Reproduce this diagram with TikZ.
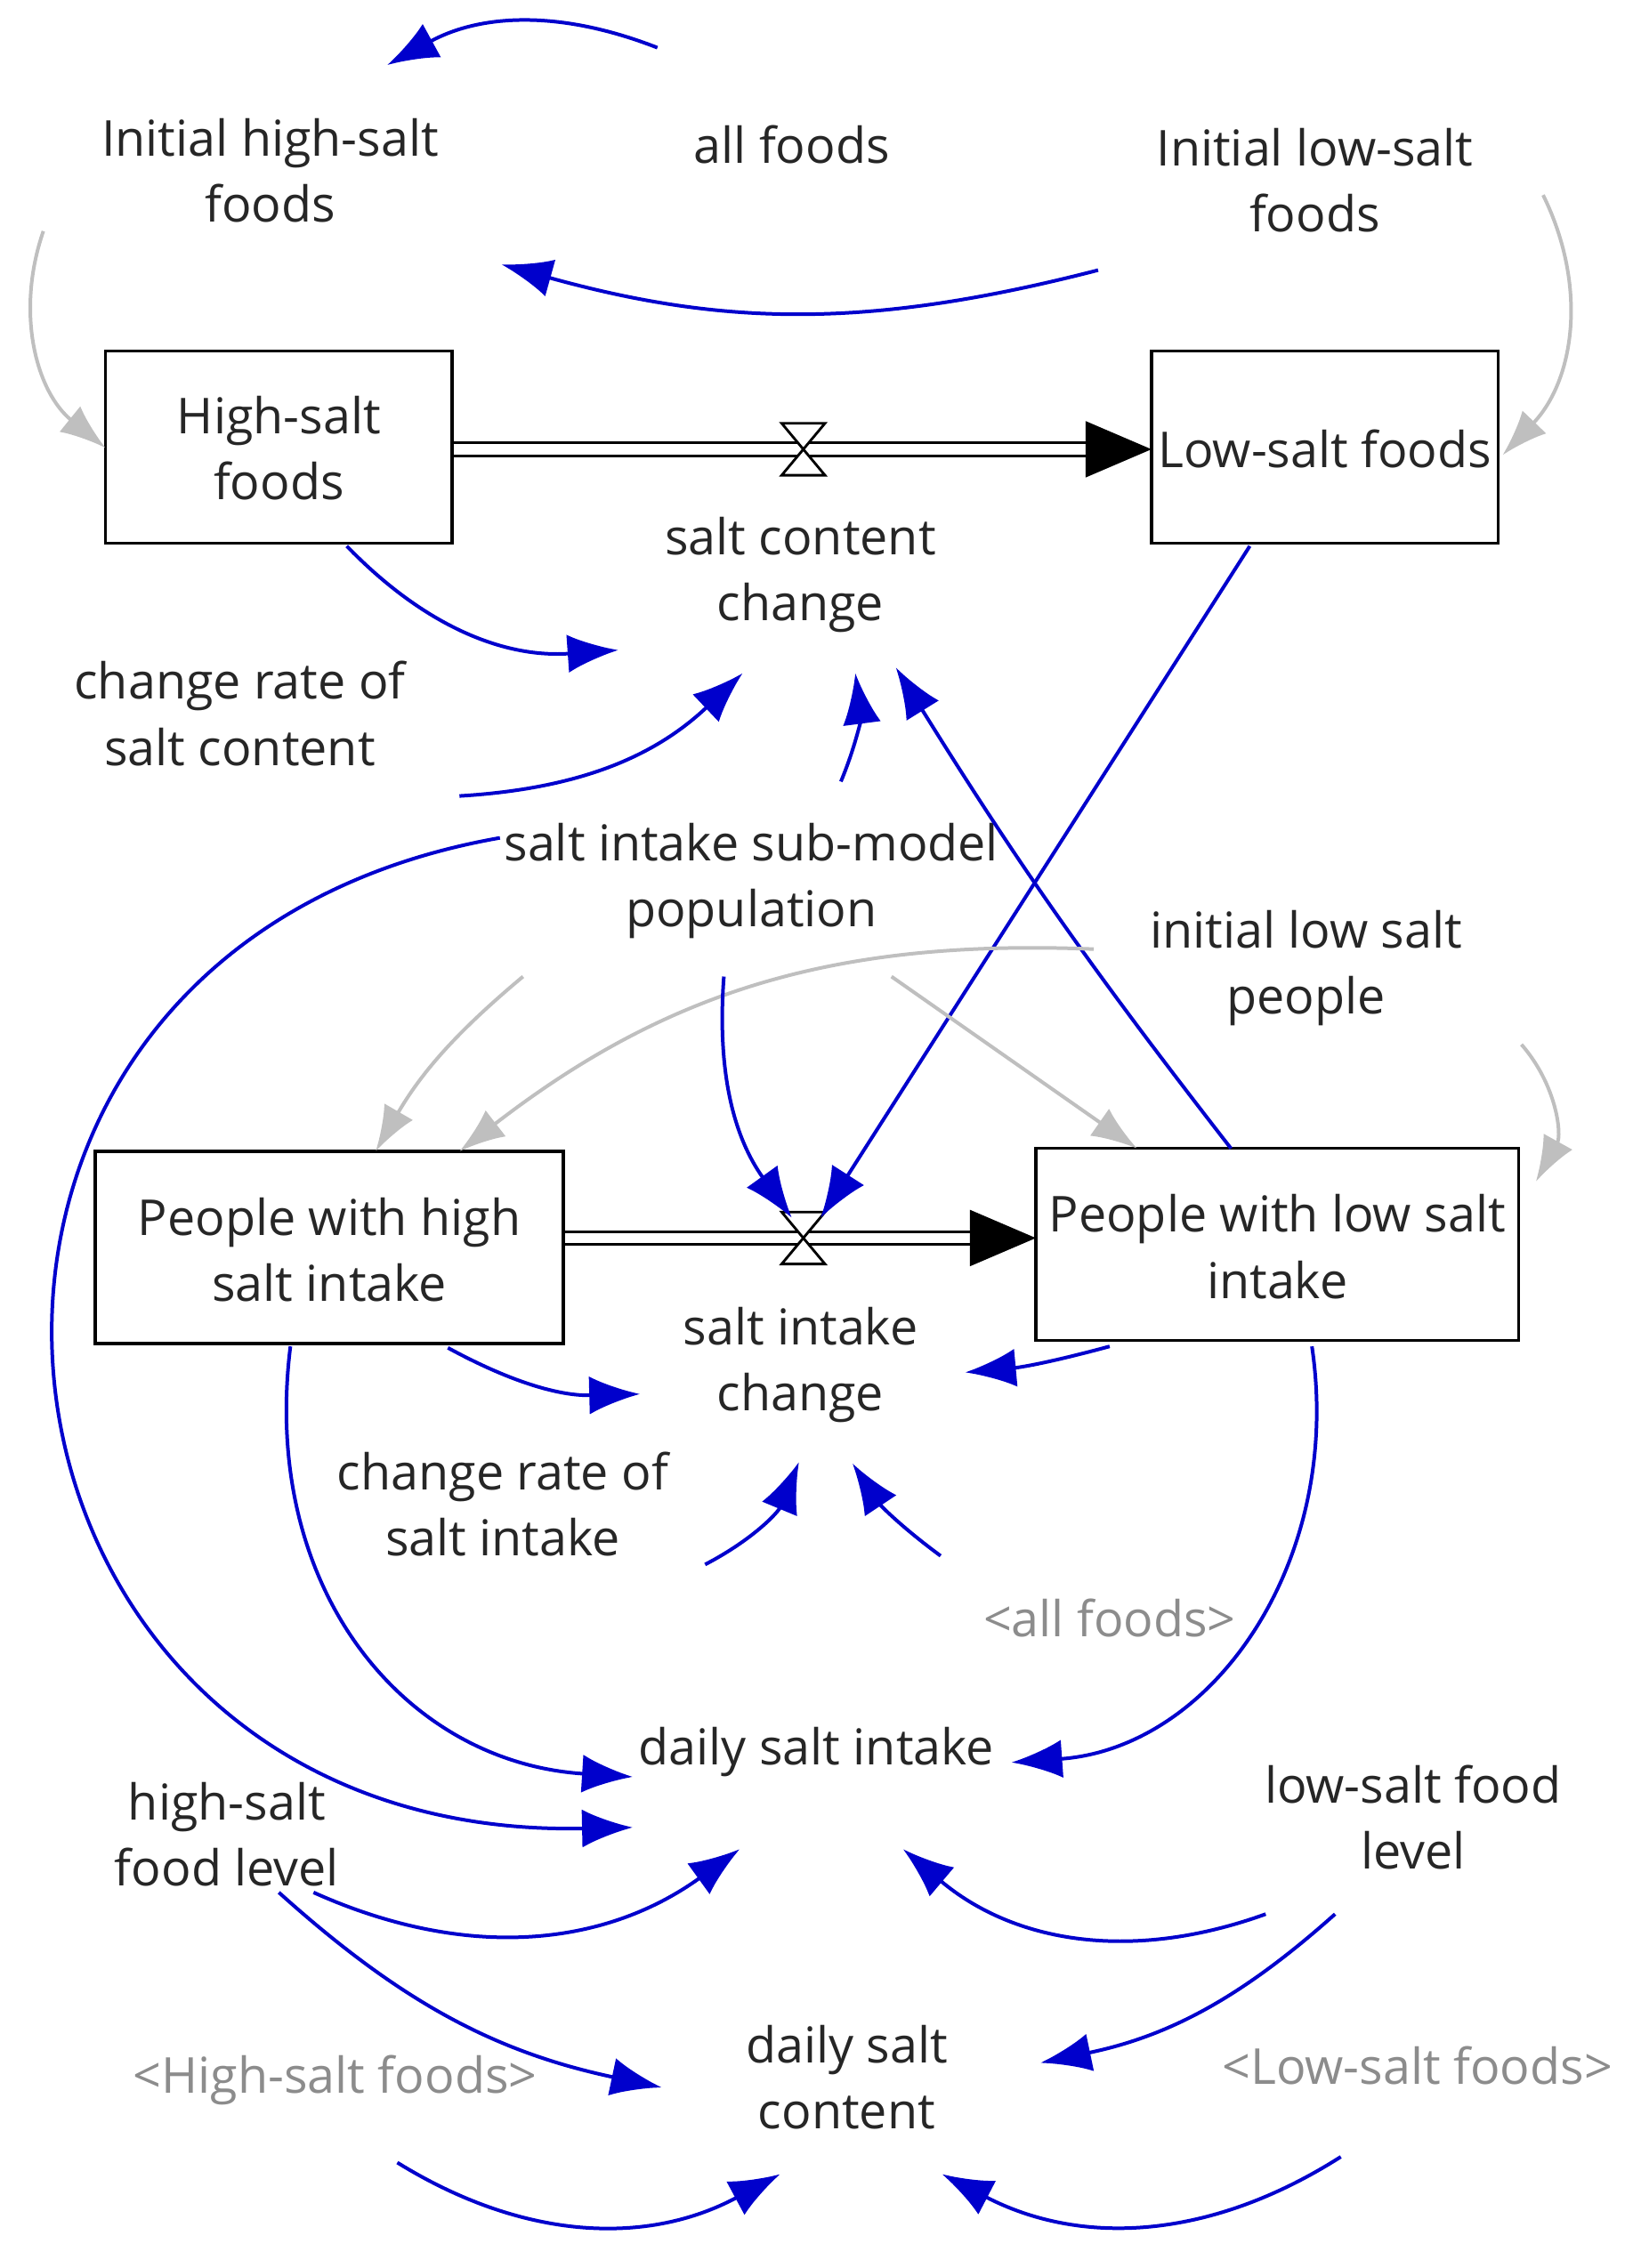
\documentclass[tikz,border=0pt]{standalone}
\usepackage{fontspec}
\setmainfont{Open Sans}
\usetikzlibrary{arrows.meta}
\begin{document}
\begin{tikzpicture}[x=0.02cm,y=-0.02cm,
  lbl/.style={align=center,font=\fontsize{19.5}{26}\selectfont,text=black!85},
  shadow/.style={lbl,text=black!45},
  stock/.style={draw,thick,line width=1.2pt},
  link/.style={draw=blue!80!black,line width=1.4pt,-{Latex[length=20pt,width=15pt]}},
  glink/.style={draw=black!25,line width=1.4pt,-{Latex[length=18pt,width=13pt]}},
  pipe/.style={double distance=4pt,line width=1pt,-{Triangle[length=26pt,width=22pt]}},
  valve/.style={draw,line width=1pt,fill=white}]
  \useasboundingbox (0,0) rectangle (1130,1570);

  % Labels
  \node[lbl] (ihs) at (187,118) {Initial high-salt\\foods};
  \node[lbl] (allf) at (548,100) {all foods};
  \node[lbl] (ils) at (910,125) {Initial low-salt\\foods};
  \node[lbl] (scc) at (554,398) {salt content\\change};
  \node[lbl] (crsc) at (166,494) {change rate of\\salt content};
  \node[lbl] (sism) at (520,610) {salt intake sub-model\\population};
  \node[lbl] (ilsp) at (904,670) {initial low salt\\people};
  \node[lbl] (sic) at (554,945) {salt intake\\change};
  \node[lbl] (crsi) at (348,1041) {change rate of\\salt intake};
  \node[shadow] (allf2) at (768,1120) {<all foods>};
  \node[lbl] (dsi) at (565,1213) {daily salt intake};
  \node[lbl] (hsfl) at (157,1270) {high-salt\\food level};
  \node[lbl] (lsfl) at (978,1258) {low-salt food\\level};
  \node[shadow] (hsf2) at (232,1440) {<High-salt foods>};
  \node[shadow] (lsf2) at (981,1430) {<Low-salt foods>};
  \node[lbl] (dsc) at (586,1438) {daily salt\\content};

  % Stocks
  \draw[stock] (73,243) rectangle (313,376);
  \node[lbl] (hsf) at (193,310) {High-salt\\foods};
  \draw[stock] (797,243) rectangle (1037,376);
  \node[lbl] (lsf) at (917,311) {Low-salt foods};
  \draw[stock] (66,797) rectangle (390,930);
  \node[lbl] (phi) at (228,865) {People with high\\salt intake};
  \draw[stock] (717,795) rectangle (1051,928);
  \node[lbl] (pli) at (884,863) {People with low salt\\intake};

  % Flows
  \draw[pipe] (314,311) -- (797,311);
  \draw[valve] (541,293) -- (571,293) -- (541,329) -- (571,329) -- cycle;
  \draw[pipe] (391,857) -- (717,857);
  \draw[valve] (541,839) -- (571,839) -- (541,875) -- (571,875) -- cycle;

  % Links
  \draw[link] (455,33) to[bend right=25] (268,45);
  \draw[link] (760,187) to[bend left=15] (347,183);
  \draw[glink] (30,160) to[bend right=35] (73,310);
  \draw[glink] (1068,135) to[bend left=35] (1040,315);
  \draw[link] (240,378) to[bend right=25] (428,450);
  \draw[link] (318,551) to[bend right=20] (514,466);
  \draw[link] (582,541) to[bend right=15] (592,466);
  \draw[link] (865,378) -- (568,843);
  \draw[link] (852,795) to[bend left=3] (620,462);
  \draw[link] (346,580) .. controls (-110,660) and (-40,1275) .. (438,1265);
  \draw[glink] (362,676) to[bend right=10] (260,797);
  \draw[glink] (757,657) to[bend right=20] (318,797);
  \draw[glink] (617,676) -- (787,795);
  \draw[link] (501,676) to[bend right=20] (548,843);
  \draw[glink] (1053,723) to[bend left=35] (1063,818);
  \draw[link] (310,933) to[bend right=15] (443,965);
  \draw[link] (768,932) to[bend left=5] (668,950);
  \draw[link] (488,1083) to[bend right=20] (553,1012);
  \draw[link] (651,1077) to[bend left=10] (590,1013);
  \draw[link] (201,932) .. controls (180,1100) and (280,1220) .. (438,1230);
  \draw[link] (908,932) .. controls (930,1080) and (840,1210) .. (700,1220);
  \draw[link] (217,1310) to[bend right=30] (512,1280);
  \draw[link] (876,1325) to[bend left=30] (625,1280);
  \draw[link] (193,1310) to[bend right=15] (458,1445);
  \draw[link] (924,1325) to[bend left=15] (720,1428);
  \draw[link] (275,1497) to[bend right=30] (540,1505);
  \draw[link] (928,1493) to[bend left=30] (652,1505);
\end{tikzpicture}
\end{document}
